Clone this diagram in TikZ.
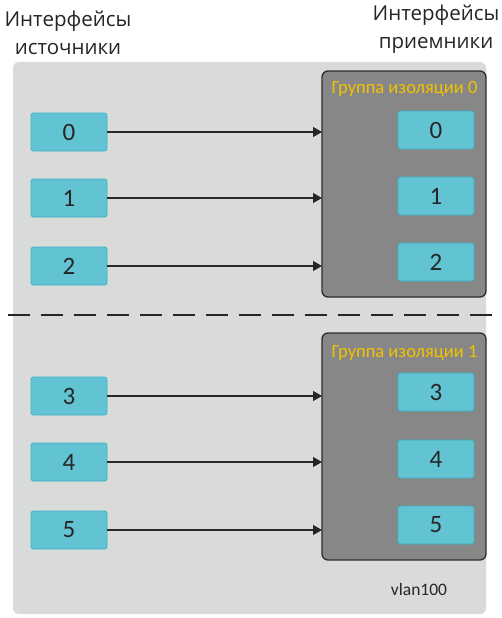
\documentclass[tikz,border=0pt]{standalone}
\usepackage{fontspec}
\setmainfont{Carlito}
\newfontfamily\titlefont{Open Sans}
\usetikzlibrary{arrows.meta}
\definecolor{bggrey}{HTML}{D9DADA}
\definecolor{ifill}{HTML}{62C3D2}
\definecolor{idraw}{HTML}{3AB2C6}
\definecolor{gfill}{HTML}{878787}
\definecolor{gdraw}{HTML}{2E2E2E}
\definecolor{gold}{HTML}{F2C200}
\definecolor{txt}{HTML}{262626}
\tikzset{
  iface/.style={draw=idraw, fill=ifill, line width=0.8pt, rounded corners=2.5pt,
    minimum width=76pt, minimum height=38pt, inner sep=0pt, text=txt,
    font=\fontsize{25}{25}\selectfont},
  grp/.style={draw=gdraw, fill=gfill, line width=1.3pt, rounded corners=6pt},
  conn/.style={draw=txt, line width=1.2pt, -{Triangle[length=9pt,width=10pt]}},
  ttl/.style={align=center, text=txt, font=\titlefont\fontsize{20.5}{28}\selectfont},
  glabel/.style={text=gold, anchor=east, font=\fontsize{18.5}{18.5}\selectfont},
}
\begin{document}
\begin{tikzpicture}[x=1pt,y=-1pt]
\useasboundingbox (0,0) rectangle (501,618);
\fill[white] (0,0) rectangle (501,618);
\fill[bggrey, rounded corners=6pt] (13,62) rectangle (486,614);
\node[ttl] (tl) at (68,33) {Интерфейсы\\источники};
\node[ttl] (tr) at (436,29) {Интерфейсы\\приемники};
% groups
\path[grp] (322,71) rectangle (486,297);
\path[grp] (322,333) rectangle (486,560);
\node[glabel] (gl0) at (481,89) {Группа изоляции 0};
\node[glabel] (gl1) at (481,353) {Группа изоляции 1};
% dashed line
\draw[txt, line width=1.6pt, dash pattern=on 22pt off 11pt] (8,315) -- (493,315);
% left interfaces
\node[iface] (s0) at (69,132) {0};
\node[iface] (s1) at (69,198) {1};
\node[iface] (s2) at (69,266) {2};
\node[iface] (s3) at (69,396) {3};
\node[iface] (s4) at (69,462) {4};
\node[iface] (s5) at (69,530) {5};
% right interfaces
\node[iface] (r0) at (436,130) {0};
\node[iface] (r1) at (436,196) {1};
\node[iface] (r2) at (436,262) {2};
\node[iface] (r3) at (436,392) {3};
\node[iface] (r4) at (436,459) {4};
\node[iface] (r5) at (436,525) {5};
% connector targets on group edges
\coordinate (t0) at (322,132);
\coordinate (t1) at (322,198);
\coordinate (t2) at (322,266);
\coordinate (t3) at (322,396);
\coordinate (t4) at (322,462);
\coordinate (t5) at (322,530);
\foreach \i in {0,...,5} {\draw[conn] (s\i.east) -- (t\i);}
\node[text=txt, font=\fontsize{17.5}{17.5}\selectfont] (vl) at (419,589) {vlan100};
\end{tikzpicture}
\end{document}
